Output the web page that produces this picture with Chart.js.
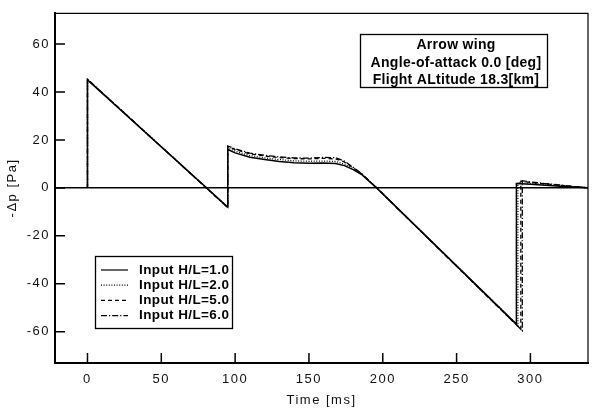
<!DOCTYPE html>
<html lang="en">
<head>
<meta charset="UTF-8">
<title>Arrow wing pressure signature</title>
<style>
    html, body { margin: 0; padding: 0; background: #ffffff; }
    canvas { display: block; }
</style>
<script src="https://cdn.jsdelivr.net/npm/chart.js@4/dist/chart.umd.min.js"></script>
</head>
<body>
<canvas id="boomChart" width="592" height="408"></canvas>
<script>
    // tick labels
    const xTickValues = [0, 50, 100, 150, 200, 250, 300];
    const yTickValues = [-60, -40, -20, 0, 20, 40, 60];

    const seriesLabels = ['Input H/L=1.0', 'Input H/L=2.0', 'Input H/L=5.0', 'Input H/L=6.0'];

    // time [ms] and -dp [Pa]
    const timeHL1 = [0, 0, 95, 95, 100, 110, 120, 130, 140, 150, 160, 168, 174, 180, 186, 196, 290.5, 290.5, 300, 310, 320, 330, 340];
    const dpHL1   = [0, 45, -8, 16, 14.6, 12.8, 11.8, 11.0, 10.5, 10.3, 10.4, 10.2, 9.3, 7.6, 5.4, -0.1, -56.8, 1.8, 1.5, 1.1, 0.7, 0.35, 0];

    const timeHL2 = [0, 0, 95, 95, 100, 110, 120, 130, 140, 150, 160, 168, 174, 180, 186, 196, 291.5, 291.5, 300, 310, 320, 330, 340];
    const dpHL2   = [0, 45.2, -8, 16.6, 15.3, 13.5, 12.5, 11.8, 11.3, 11.1, 11.2, 11.0, 10.0, 8.0, 5.6, -0.1, -57.4, 2.3, 1.9, 1.4, 0.9, 0.45, 0];

    const timeHL5 = [0, 0, 95, 95, 100, 110, 120, 130, 140, 150, 160, 168, 174, 180, 186, 196, 293.5, 293.5, 300, 310, 320, 330, 340];
    const dpHL5   = [0, 45.3, -8.2, 17.2, 16.0, 14.2, 13.3, 12.6, 12.2, 12.1, 12.3, 12.1, 10.8, 8.4, 5.7, -0.1, -58.9, 2.8, 2.3, 1.7, 1.1, 0.5, 0];

    const timeHL6 = [0, 0, 95, 95, 100, 110, 120, 130, 140, 150, 160, 168, 174, 180, 186, 196, 294.5, 294.5, 300, 310, 320, 330, 340];
    const dpHL6   = [0, 45.3, -8.2, 17.5, 16.3, 14.5, 13.6, 12.9, 12.5, 12.4, 12.7, 12.6, 11.2, 8.6, 5.8, -0.1, -59.5, 3.0, 2.5, 1.8, 1.2, 0.55, 0];

    const infoLines = ['Arrow wing', 'Angle-of-attack 0.0 [deg]', 'Flight ALtitude 18.3[km]'];

    const dashes = [[], [1, 1.6], [4, 3], [6, 2, 1.2, 2]];
    const FONT = '"Liberation Sans", Arial, sans-serif';

    function toPoints(ts, vs) {
        return ts.map((t, i) => ({ x: t, y: vs[i] }));
    }

    const seriesData = [
        toPoints(timeHL1, dpHL1),
        toPoints(timeHL2, dpHL2),
        toPoints(timeHL5, dpHL5),
        toPoints(timeHL6, dpHL6)
    ];

    // letter spacing for the axis text, reset before the lines are drawn
    const spacingPlugin = {
        id: 'spacing',
        beforeDraw(chart) { chart.ctx.letterSpacing = '1.5px'; },
        beforeDatasetsDraw(chart) { chart.ctx.letterSpacing = '0px'; }
    };

    const decorPlugin = {
        id: 'decor',
        afterDraw(chart) {
            const ctx = chart.ctx;
            const a = chart.chartArea;
            const xs = chart.scales.x, ys = chart.scales.y;
            ctx.save();
            ctx.strokeStyle = '#000';
            ctx.fillStyle = '#000';

            // frame top and right
            ctx.lineWidth = 1.2;
            ctx.beginPath();
            ctx.moveTo(a.left, a.top + 0.5);
            ctx.lineTo(a.right, a.top + 0.5);
            ctx.lineTo(a.right, a.bottom);
            ctx.stroke();

            // inside tick marks
            ctx.lineWidth = 1.5;
            ctx.beginPath();
            xTickValues.forEach(v => {
                const px = xs.getPixelForValue(v);
                ctx.moveTo(px, a.bottom);
                ctx.lineTo(px, a.bottom - 10);
            });
            yTickValues.forEach(v => {
                const py = ys.getPixelForValue(v);
                ctx.moveTo(a.left, py);
                ctx.lineTo(a.left + 10, py);
            });
            ctx.stroke();

            // legend
            ctx.lineWidth = 1.3;
            ctx.strokeRect(95.5, 256.5, 137, 72);
            ctx.font = 'bold 13.5px ' + FONT;
            ctx.letterSpacing = '0.4px';
            ctx.textAlign = 'left';
            ctx.textBaseline = 'middle';
            seriesLabels.forEach((lab, i) => {
                const y = 270 + i * 15.2;
                ctx.setLineDash(dashes[i]);
                ctx.lineWidth = 1.2;
                ctx.beginPath();
                ctx.moveTo(101, y);
                ctx.lineTo(128, y);
                ctx.stroke();
                ctx.setLineDash([]);
                ctx.fillText(lab, 139, y);
            });

            // info box
            ctx.lineWidth = 1.3;
            ctx.strokeRect(360.5, 34.5, 187, 53);
            ctx.font = 'bold 14px ' + FONT;
            ctx.letterSpacing = '0.3px';
            ctx.textAlign = 'center';
            infoLines.forEach((line, i) => {
                ctx.fillText(line, 456, 45.5 + i * 17.5);
            });
            ctx.restore();
        }
    };

    new Chart(document.getElementById('boomChart').getContext('2d'), {
        type: 'line',
        data: {
            datasets: seriesData.map((pts, i) => ({
                label: seriesLabels[i],
                data: pts,
                borderColor: '#000',
                borderWidth: i === 0 ? 1.5 : 1.3,
                borderDash: dashes[i],
                pointRadius: 0,
                tension: 0,
                fill: false
            }))
        },
        options: {
            responsive: false,
            animation: false,
            events: [],
            layout: { padding: { top: 9, right: 4, left: 0, bottom: 0 } },
            plugins: {
                legend: { display: false },
                tooltip: { enabled: false }
            },
            scales: {
                x: {
                    type: 'linear',
                    min: -22,
                    max: 339,
                    afterBuildTicks: s => { s.ticks = xTickValues.map(v => ({ value: v })); },
                    afterFit: s => { s.height = 45; },
                    grid: { display: false, drawTicks: false },
                    border: { display: true, color: '#000', width: 2 },
                    ticks: {
                        color: '#111',
                        padding: 9,
                        maxRotation: 0,
                        autoSkip: false,
                        font: { family: FONT, size: 13 }
                    },
                    title: {
                        display: true,
                        text: 'Time [ms]',
                        color: '#111',
                        padding: { top: 5, bottom: 0 },
                        font: { family: FONT, size: 13 }
                    }
                },
                y: {
                    type: 'linear',
                    min: -73,
                    max: 73,
                    afterBuildTicks: s => { s.ticks = yTickValues.map(v => ({ value: v })); },
                    afterFit: s => { s.width = 55; },
                    grid: {
                        drawTicks: false,
                        lineWidth: 1.5,
                        color: c => (c.tick && c.tick.value === 0) ? '#000' : 'rgba(0,0,0,0)'
                    },
                    border: { display: true, color: '#000', width: 2 },
                    ticks: {
                        color: '#111',
                        padding: 5,
                        autoSkip: false,
                        font: { family: FONT, size: 13 }
                    },
                    title: {
                        display: true,
                        text: '-\u0394p [Pa]',
                        color: '#111',
                        padding: { top: 5, bottom: 0 },
                        font: { family: FONT, size: 13 }
                    }
                }
            }
        },
        plugins: [spacingPlugin, decorPlugin]
    });
</script>
</body>
</html>
